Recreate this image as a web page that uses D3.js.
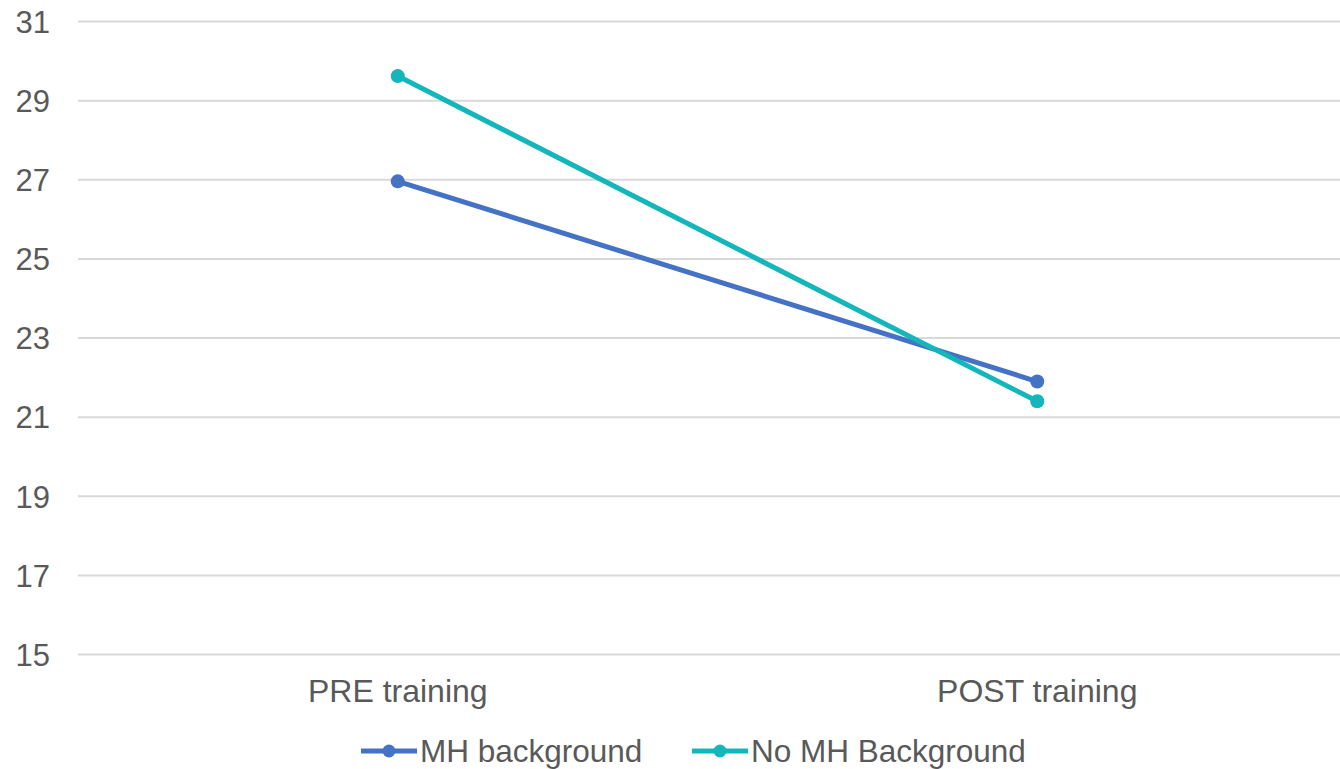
<!DOCTYPE html>
<html>
<head>
<meta charset="utf-8">
<script src="https://cdn.jsdelivr.net/npm/d3@7"></script>
<style>
  html, body { margin: 0; padding: 0; background: #fff; }
  svg { display: block; font-family: "Liberation Sans", Arial, sans-serif; }
</style>
</head>
<body>
<svg id="chart" width="1340" height="769"></svg>
<script>
// Scores before and after training, by mental health background
const categories = ["PRE training", "POST training"];
const seriesNames = ["MH background", "No MH Background"];
const mhBackground = [26.96, 21.90];
const noMhBackground = [29.62, 21.40];
const yTicks = [15, 17, 19, 21, 23, 25, 27, 29, 31];
const colors = ["#4472C4", "#13B6BB"];

const series = [
  { name: seriesNames[0], values: mhBackground, color: colors[0] },
  { name: seriesNames[1], values: noMhBackground, color: colors[1] }
];

const svg = d3.select("#chart");
const textColor = "#595959";

const x = d3.scaleBand().domain(categories).range([78, 1357]).paddingInner(0).paddingOuter(0);
const y = d3.scaleLinear().domain([15, 31]).range([654.5, 21.5]);

// Horizontal gridlines
svg.append("g")
  .selectAll("line")
  .data(yTicks)
  .join("line")
  .attr("x1", 78)
  .attr("x2", 1357)
  .attr("y1", d => y(d))
  .attr("y2", d => y(d))
  .attr("stroke", "#D9D9D9")
  .attr("stroke-width", 2);

// Y axis labels
const yAxis = d3.axisLeft(y).tickValues(yTicks).tickSize(0).tickPadding(0).tickFormat(d3.format("d"));
const gy = svg.append("g").attr("transform", "translate(50,0)").call(yAxis);
gy.select(".domain").remove();
gy.selectAll("text")
  .attr("fill", textColor)
  .attr("font-size", 31)
  .attr("font-family", "Liberation Sans, Arial, sans-serif")
  .attr("dy", "0.35em");

// X axis labels
const xAxis = d3.axisBottom(x).tickSize(0).tickPadding(0);
const gx = svg.append("g").attr("transform", "translate(0,680)").call(xAxis);
gx.select(".domain").remove();
gx.selectAll("text")
  .attr("fill", textColor)
  .attr("font-size", 32)
  .attr("font-family", "Liberation Sans, Arial, sans-serif")
  .attr("dy", "0.7em");

const cx = c => x(c) + x.bandwidth() / 2;

const line = d3.line()
  .x((d, i) => cx(categories[i]))
  .y(d => y(d));

// Series lines and markers
series.forEach(s => {
  const g = svg.append("g");
  g.append("path")
    .datum(s.values)
    .attr("d", line)
    .attr("fill", "none")
    .attr("stroke", s.color)
    .attr("stroke-width", 5)
    .attr("stroke-linecap", "round");
  g.selectAll("circle")
    .data(s.values)
    .join("circle")
    .attr("cx", (d, i) => cx(categories[i]))
    .attr("cy", d => y(d))
    .attr("r", 7)
    .attr("fill", s.color);
});

// Legend
const legendItems = [
  { x: 361, s: series[0] },
  { x: 692, s: series[1] }
];
const legendY = 751;
legendItems.forEach(item => {
  const g = svg.append("g").attr("transform", `translate(${item.x},${legendY})`);
  g.append("line")
    .attr("x1", 0).attr("x2", 56)
    .attr("y1", 0).attr("y2", 0)
    .attr("stroke", item.s.color)
    .attr("stroke-width", 5);
  g.append("circle")
    .attr("cx", 28).attr("cy", 0).attr("r", 6.5)
    .attr("fill", item.s.color);
  g.append("text")
    .attr("x", 59)
    .attr("y", 0)
    .attr("dy", "0.36em")
    .attr("fill", textColor)
    .attr("font-size", 31.5)
    .text(item.s.name);
});
</script>
</body>
</html>
